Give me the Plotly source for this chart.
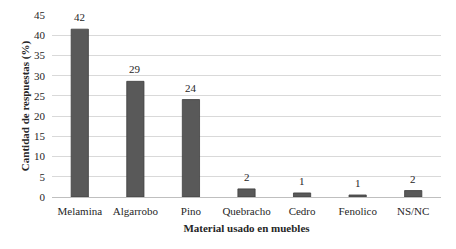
import plotly.graph_objects as go

categories = ["Melamina", "Algarrobo", "Pino", "Quebracho", "Cedro", "Fenolico", "NS/NC"]
values = [41.5, 28.6, 24.1, 2.0, 1.0, 0.5, 1.6]
value_labels = ["42", "29", "24", "2", "1", "1", "2"]
y_ticks = [0, 5, 10, 15, 20, 25, 30, 35, 40, 45]

font = "Liberation Serif, Times New Roman, serif"
txt = "#262626"

fig = go.Figure(go.Bar(
    x=categories, y=values,
    marker=dict(color="#595959", line=dict(color="#3f3f3f", width=0.8)),
    hoverinfo="skip",
))
for c, v, lab in zip(categories, values, value_labels):
    fig.add_annotation(x=c, y=v, text=lab, showarrow=False, yanchor="bottom", yshift=4,
                       font=dict(family=font, size=11, color=txt))
fig.update_layout(
    width=456, height=249,
    margin=dict(l=52, r=15, t=15, b=52, autoexpand=False),
    paper_bgcolor="white", plot_bgcolor="white",
    bargap=0.69, showlegend=False,
    font=dict(family=font, size=11, color=txt),
)
fig.update_yaxes(
    range=[0, 45], tickvals=y_ticks, showgrid=True, gridcolor="#d9d9d9", gridwidth=1,
    zeroline=False, showline=False, ticks="", ticklabelstandoff=6,
    tickfont=dict(family=font, size=11, color=txt),
    title=dict(text="<b>Cantidad de respuestas (%)</b>", font=dict(family=font, size=11, color=txt), standoff=2),
    automargin=False,
)
fig.update_xaxes(
    showline=True, linecolor="#bfbfbf", linewidth=1, ticks="", ticklabelstandoff=4,
    tickfont=dict(family=font, size=11, color=txt),
    title=dict(text="<b>Material usado en muebles</b>", font=dict(family=font, size=11, color=txt), standoff=8),
    automargin=False,
)
fig.write_html("out.html", config={"displayModeBar": False},
               post_script="document.body.style.margin='0';")
